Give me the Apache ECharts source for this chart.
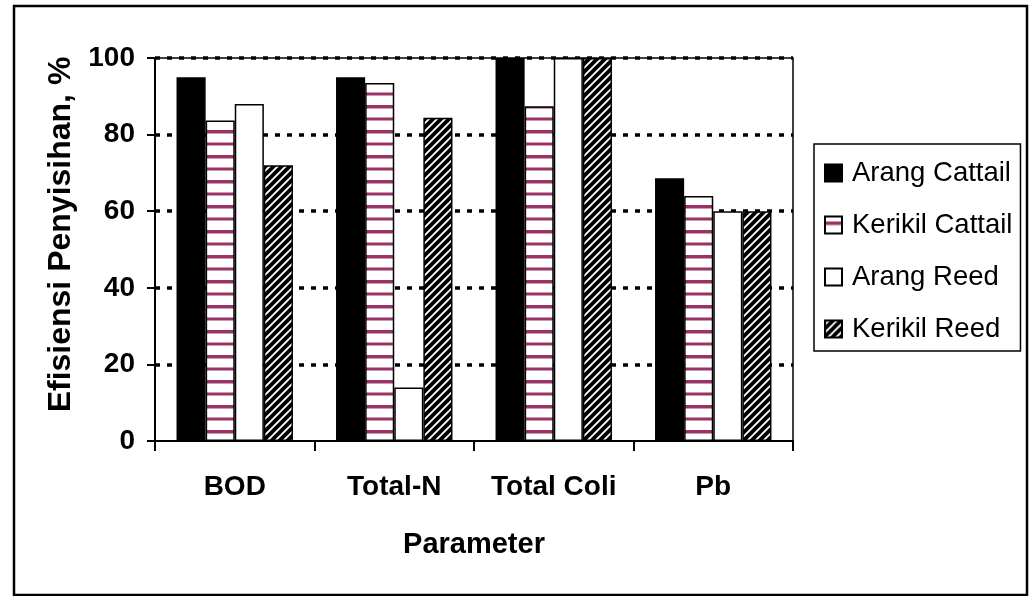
<!DOCTYPE html>
<html>
<head>
<meta charset="utf-8">
<title>Efisiensi Penyisihan</title>
<script src="https://cdn.jsdelivr.net/npm/echarts@6/dist/echarts.min.js"></script>
<style>
  html, body { margin: 0; padding: 0; background: #fff; }
  #chart { width: 1030px; height: 596px; }
</style>
</head>
<body>
<div id="chart"></div>
<script>
// Removal efficiency (%) per parameter for each wetland media / plant combination
const categories = ['BOD', 'Total-N', 'Total Coli', 'Pb'];
const arangCattail = [95, 95, 100, 68.6];
const kerikilCattail = [83.7, 93.5, 87.4, 64];
const arangReed = [88, 14, 100, 60];
const kerikilReed = [72, 84.4, 100, 60];
const yTicks = { min: 0, max: 100, interval: 20 };

// Horizontal purple stripes on white
function stripePattern() {
  const c = document.createElement('canvas');
  c.width = 8; c.height = 25;
  const g = c.getContext('2d');
  g.fillStyle = '#ffffff';
  g.fillRect(0, 0, 8, 25);
  g.fillStyle = '#993366';
  g.fillRect(0, 5, 8, 3.5);
  g.fillRect(0, 17.5, 8, 3);
  return c;
}

// Black upward diagonal stripes on white
function diagonalPattern() {
  const s = 8;
  const c = document.createElement('canvas');
  c.width = s; c.height = s;
  const g = c.getContext('2d');
  g.fillStyle = '#ffffff';
  g.fillRect(0, 0, s, s);
  g.strokeStyle = '#000000';
  g.lineWidth = 3.8;
  g.lineCap = 'square';
  for (let k = -1; k <= 1; k++) {
    g.beginPath();
    g.moveTo(k * s, s);
    g.lineTo(k * s + s, 0);
    g.stroke();
  }
  return c;
}

const FONT = '"Liberation Sans", Arial, Helvetica, sans-serif';
const border = { borderColor: '#000', borderWidth: 1.5 };

const chart = echarts.init(document.getElementById('chart'), null, { renderer: 'canvas' });

chart.setOption({
  backgroundColor: '#ffffff',
  animation: false,
  graphic: [{
    type: 'rect',
    shape: { x: 14, y: 6, width: 1013, height: 589 },
    style: { fill: 'none', stroke: '#000', lineWidth: 2.5 },
    silent: true,
    z: 100
  }],
  grid: {
    left: 155, top: 58, right: 237, bottom: 155,
    show: true, borderColor: '#000', borderWidth: 1.5,
    backgroundColor: 'transparent'
  },
  legend: {
    orient: 'vertical',
    left: 814, top: 144,
    padding: [15, 8, 8, 10],
    itemGap: 24,
    itemWidth: 17, itemHeight: 17,
    icon: 'rect',
    backgroundColor: '#fff',
    borderColor: '#000', borderWidth: 1.5,
    borderRadius: 0,
    textStyle: { fontFamily: FONT, fontSize: 27.5, color: '#000', padding: [0, 0, 0, 5] },
    data: ['Arang Cattail', 'Kerikil Cattail', 'Arang Reed', 'Kerikil Reed']
  },
  xAxis: {
    type: 'category',
    data: categories,
    boundaryGap: true,
    z: 5,
    name: 'Parameter',
    nameLocation: 'middle',
    nameGap: 89,
    nameTextStyle: { fontFamily: FONT, fontSize: 29, fontWeight: 'bold', color: '#000' },
    axisLine: { lineStyle: { color: '#000', width: 2 } },
    axisTick: { show: true, interval: 0, length: 10, alignWithLabel: false, lineStyle: { color: '#000', width: 2 } },
    axisLabel: { interval: 0, fontFamily: FONT, fontSize: 28, fontWeight: 'bold', color: '#000', margin: 32 },
    splitLine: { show: false }
  },
  yAxis: {
    type: 'value',
    min: yTicks.min, max: yTicks.max, interval: yTicks.interval,
    name: 'Efisiensi Penyisihan, %',
    nameLocation: 'middle',
    nameRotate: 90,
    nameGap: 77,
    nameTextStyle: { fontFamily: FONT, fontSize: 32, fontWeight: 'bold', color: '#000', padding: [0, 0, 0, 30] },
    axisLine: { show: true, lineStyle: { color: '#000', width: 2 } },
    axisTick: { show: true, length: 8, lineStyle: { color: '#000', width: 2 } },
    axisLabel: { fontFamily: FONT, fontSize: 28, fontWeight: 'bold', color: '#000', margin: 20 },
    splitLine: { show: true, showMinLine: false, lineStyle: { color: '#000', width: 3.5, type: [5, 7] } }
  },
  series: [
    {
      name: 'Arang Cattail', type: 'bar', data: arangCattail,
      barGap: '0%', barCategoryGap: '27%',
      itemStyle: Object.assign({ color: '#000' }, border)
    },
    {
      name: 'Kerikil Cattail', type: 'bar', data: kerikilCattail,
      barGap: '0%', barCategoryGap: '27%',
      itemStyle: Object.assign({ color: { image: stripePattern(), repeat: 'repeat' } }, border)
    },
    {
      name: 'Arang Reed', type: 'bar', data: arangReed,
      barGap: '0%', barCategoryGap: '27%',
      itemStyle: Object.assign({ color: '#fff' }, border)
    },
    {
      name: 'Kerikil Reed', type: 'bar', data: kerikilReed,
      barGap: '0%', barCategoryGap: '27%',
      itemStyle: Object.assign({ color: { image: diagonalPattern(), repeat: 'repeat' } }, border)
    }
  ]
});
</script>
</body>
</html>
